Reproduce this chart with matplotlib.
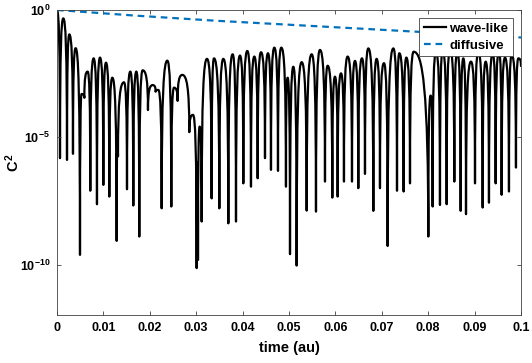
import numpy as np
import matplotlib
matplotlib.use('Agg')
import matplotlib.pyplot as plt
from matplotlib.path import Path
from matplotlib.patches import PathPatch
from matplotlib.lines import Line2D
from matplotlib.ticker import NullLocator

plt.rcParams['font.family'] = 'Liberation Sans'
plt.rcParams['font.weight'] = 'bold'
plt.rcParams['mathtext.fontset'] = 'custom'
plt.rcParams['mathtext.rm'] = 'Liberation Sans:bold'
plt.rcParams['mathtext.it'] = 'Liberation Sans:bold'
plt.rcParams['mathtext.bf'] = 'Liberation Sans:bold'

# wave-like C^2: turning points (time in units of 1e-3 au, log10 of C^2)
wave_t = [0.00, 0.65, 1.36, 2.16, 2.66, 3.45, 4.02, 4.96, 5.30, 5.90,
          6.61, 7.18, 7.90, 8.62, 9.27, 9.99, 10.56, 11.28, 11.93, 12.86,
          13.00, 13.15, 14.44, 15.09, 15.80, 16.45, 17.10, 17.74, 18.46, 19.61,
          20.62, 21.26, 21.84, 22.56, 23.78, 24.64, 25.22, 26.00, 27.01, 28.52,
          29.31, 30.10, 30.25, 30.39, 30.75, 31.18, 32.33, 33.33, 33.84, 34.99,
          35.85, 36.93, 37.86, 38.58, 39.44, 40.16, 41.02, 41.81, 42.53, 43.25,
          43.97, 44.83, 45.47, 46.12, 46.84, 47.63, 48.35, 49.35, 49.71, 50.22,
          50.93, 51.65, 52.73, 53.81, 54.89, 55.82, 56.68, 57.76, 58.33, 59.34,
          59.91, 60.49, 61.21, 61.85, 62.64, 63.58, 64.22, 64.94, 65.73, 66.38,
          67.10, 68.18, 68.89, 69.61, 70.47, 71.26, 72.49, 73.28, 73.78, 74.71,
          75.29, 76.08, 76.87, 80.03, 80.53, 80.96, 81.68, 82.54, 83.12, 83.98,
          84.70, 85.63, 86.28, 87.00, 87.57, 88.15, 89.22, 90.09, 90.80, 91.74,
          92.39, 93.10, 93.89, 94.54, 95.26, 95.83, 96.55, 97.41, 97.99, 98.92,
          99.43, 100.00]
wave_log = [0.00, -5.82, -0.33, -5.89, -0.96, -5.65, -1.50, -9.62, -3.30, -3.45,
            -2.42, -7.10, -1.90, -7.63, -1.87, -6.87, -2.07, -7.33, -2.66, -9.07,
            -5.55, -5.75, -2.84, -7.04, -2.42, -7.68, -2.42, -8.90, -2.37, -3.93,
            -2.95, -3.21, -3.14, -7.79, -1.99, -7.72, -3.05, -3.57, -2.55, -4.80,
            -4.12, -10.14, -6.00, -9.82, -4.58, -8.31, -1.92, -7.40, -1.90, -7.79,
            -1.92, -8.38, -1.74, -8.31, -1.79, -6.81, -1.61, -6.94, -1.83, -6.61,
            -1.66, -5.82, -1.70, -6.28, -1.48, -6.32, -1.48, -6.94, -2.66, -9.59,
            -2.23, -10.04, -2.05, -7.88, -1.74, -7.92, -1.57, -6.74, -2.19, -7.37,
            -2.62, -7.33, -2.49, -6.74, -1.83, -6.74, -2.00, -7.00, -1.90, -6.44,
            -1.51, -7.89, -1.92, -7.00, -2.09, -9.27, -1.51, -7.10, -1.70, -7.13,
            -1.87, -6.81, -1.64, -8.90, -3.36, -7.72, -1.64, -7.66, -1.57, -7.63,
            -1.57, -6.74, -1.64, -7.89, -1.90, -8.02, -2.03, -6.81, -1.64, -7.76,
            -2.03, -7.57, -1.70, -6.81, -1.61, -7.26, -1.87, -7.13, -1.77, -6.19,
            -1.90, -2.20]

# diffusive C^2 read at a few times
diff_t = [0.0, 16.8, 34.0, 67.2, 100.0]
diff_log = [0.0, -0.22, -0.42, -0.75, -1.08]

xticks = [0, 0.01, 0.02, 0.03, 0.04, 0.05, 0.06, 0.07, 0.08, 0.09, 0.1]
xticklabels = ['0', '0.01', '0.02', '0.03', '0.04', '0.05', '0.06', '0.07', '0.08', '0.09', '0.1']
yticks = [1e-10, 1e-5, 1e0]
yticklabels = [r'$10^{-10}$', r'$10^{-5}$', r'$10^{0}$']


# Smooth path through the turning points: flat tops at maxima, sharp spikes at minima
def wave_path(t, y):
    n = len(t)
    is_max = [(i == 0 or y[i] > y[i - 1]) and (i == n - 1 or y[i] > y[i + 1]) for i in range(n)]
    verts = [(t[0], y[0])]
    codes = [Path.MOVETO]
    for i in range(n - 1):
        t0, y0, t1, y1 = t[i], y[i], t[i + 1], y[i + 1]
        if is_max[i]:
            c1 = (t0 + 0.6 * (t1 - t0), y0)
        else:
            c1 = (t0, y0 + 0.8 * (y1 - y0))
        if is_max[i + 1]:
            c2 = (t1 - 0.6 * (t1 - t0), y1)
        else:
            c2 = (t1, y1 + 0.8 * (y0 - y1))
        verts += [c1, c2, (t1, y1)]
        codes += [Path.CURVE4] * 3
    verts = np.array(verts)
    verts[:, 0] *= 1e-3
    verts[:, 1] = 10.0 ** verts[:, 1]
    return Path(verts, codes)


fig = plt.figure(figsize=(5.32, 3.63), dpi=100)
ax = fig.add_axes([0.1071, 0.1309, 0.8722, 0.8416])
ax.set_yscale('log')

blue = '#0072BD'
ax.add_patch(PathPatch(wave_path(wave_t, wave_log), facecolor='none', edgecolor='black',
                       lw=1.6, joinstyle='round', capstyle='round'))
ax.plot(np.array(diff_t) * 1e-3, 10.0 ** np.array(diff_log), color=blue, lw=1.6,
        linestyle=(0, (3, 2.2)))

ax.set_xlim(0, 0.1)
ax.set_ylim(1e-12, 1)
ax.set_xticks(xticks)
ax.set_xticklabels(xticklabels)
ax.set_yticks(yticks)
ax.set_yticklabels(yticklabels)
ax.yaxis.set_minor_locator(NullLocator())

axcol = '#404040'
for s in ax.spines.values():
    s.set_color(axcol)
    s.set_linewidth(0.6)
ax.tick_params(direction='in', length=3, width=0.6, colors=axcol, labelcolor='black',
               labelsize=9, top=True, right=True, pad=5)

ax.set_xlabel('time (au)', fontsize=10.5, fontweight='bold')
ax.set_ylabel(r'$C^2$', fontsize=10.5)
ax.xaxis.set_label_coords(0.5, -0.085)
ax.yaxis.set_label_coords(-0.075, 0.5)

handles = [Line2D([], [], color='black', lw=1.6),
           Line2D([], [], color=blue, lw=1.6, linestyle=(0, (3, 2.2)))]
leg = ax.legend(handles, ['wave-like', 'diffusive'], loc='upper right', fancybox=False,
                framealpha=1, edgecolor=axcol, fontsize=9.5, handlelength=1.7,
                handletextpad=0.25, borderpad=0.35, labelspacing=0.35,
                borderaxespad=0.6)
leg.get_frame().set_linewidth(0.6)

fig.savefig('out.png', dpi=100)
